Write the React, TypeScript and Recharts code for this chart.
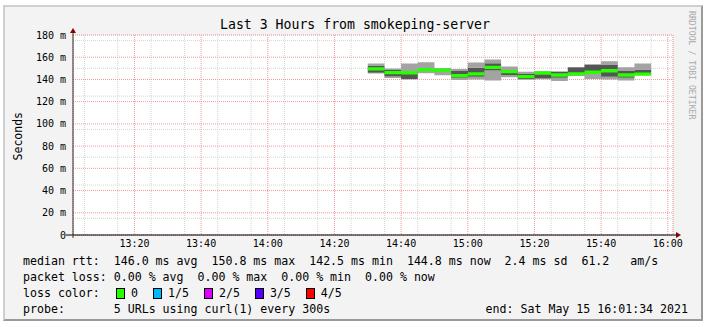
import React from 'react';
import { ComposedChart, Area, XAxis, YAxis, CartesianGrid, ReferenceDot } from 'recharts';

// 5-minute bins, each value in ms (5 pings: min, 2nd, median, 4th, max)
const binStart = ['14:30', '14:35', '14:40', '14:45', '14:50', '14:55', '15:00', '15:05', '15:10', '15:15', '15:20', '15:25', '15:30', '15:35', '15:40', '15:45', '15:50'];
const lastBinEnd = '15:55';
const rttMin = [145.3, 141.2, 139.9, 145.6, 143.8, 139.5, 140.0, 139.0, 142.0, 139.8, 140.2, 138.5, 143.0, 140.5, 139.9, 139.0, 143.8];
const rttLow = [146.0, 142.6, 140.5, 147.8, 147.0, 141.5, 142.5, 148.0, 143.8, 140.3, 140.8, 141.5, 144.0, 145.0, 142.5, 141.5, 144.2];
const rttMedian = [149.5, 146.2, 146.0, 148.8, 148.2, 143.5, 145.0, 150.8, 147.0, 142.5, 145.8, 144.0, 145.0, 146.5, 147.8, 144.0, 144.8];
const rttHigh = [152.5, 148.5, 147.5, 150.8, 149.5, 147.5, 150.5, 154.5, 148.5, 145.0, 146.5, 147.0, 151.0, 153.3, 153.5, 147.5, 149.0];
const rttMax = [154.3, 149.8, 154.3, 155.5, 150.4, 149.5, 155.3, 158.0, 151.7, 147.0, 147.4, 147.4, 151.3, 154.0, 156.4, 151.0, 154.3];

const viewStart = '13:01:34';
const viewEnd = '16:01:34';
const xMajor = ['13:20', '13:40', '14:00', '14:20', '14:40', '15:00', '15:20', '15:40', '16:00'];
const yMajor = [0, 20, 40, 60, 80, 100, 120, 140, 160, 180];

const lossLabels = ['0', '1/5', '2/5', '3/5', '4/5'];
const lossColors = ['#26ff00', '#00b8ff', '#dd00ff', '#5500ff', '#ff0000'];

const mono = '"DejaVu Sans Mono", monospace';

const toMin = (t: string) => {
  const [h, m, s] = t.split(':').map(Number);
  return h * 60 + m + (s || 0) / 60;
};
const fmt = (v: number) => {
  const h = Math.floor(v / 60);
  const m = Math.round(v - h * 60);
  return `${h}:${String(m).padStart(2, '0')}`;
};

const xStart = toMin(viewStart);
const xEnd = toMin(viewEnd);
const xMajorTicks = xMajor.map(toMin);
// minor grid every 5 min / 5 ms
const xMinorTicks: number[] = [];
for (let v = Math.ceil(xStart / 5) * 5; v <= xEnd; v += 5) if (!xMajorTicks.includes(v)) xMinorTicks.push(v);
const yMinorTicks: number[] = [];
for (let v = 5; v < 180; v += 5) if (v % 20 !== 0) yMinorTicks.push(v);

const band = 3; // median marker thickness in ms
const rows = binStart.map((t, i) => ({
  t: toMin(t),
  base: rttMin[i],
  lo: rttLow[i] - rttMin[i],
  mid: rttHigh[i] - rttLow[i],
  hi: rttMax[i] - rttHigh[i],
  medBase: rttMedian[i] - band / 2,
  med: band,
}));
rows.push({ ...rows[rows.length - 1], t: toMin(lastBinEnd) });

const XEndArrow = (p: any) => (
  <g>
    <line x1={p.cx} y1={p.cy} x2={p.cx + 4} y2={p.cy} stroke="#000" />
    <path d={`M${p.cx + 3},${p.cy - 3}L${p.cx + 8},${p.cy}L${p.cx + 3},${p.cy + 3}Z`} fill="#8b0000" />
  </g>
);
const YEndArrow = (p: any) => (
  <g>
    <line x1={p.cx} y1={p.cy} x2={p.cx} y2={p.cy - 3} stroke="#333" />
    <path d={`M${p.cx - 3},${p.cy - 2}L${p.cx},${p.cy - 7}L${p.cx + 3},${p.cy - 2}Z`} fill="#8b0000" />
  </g>
);
const Origin = (p: any) => (
  <g>
    <line x1={p.cx - 7} y1={p.cy} x2={p.cx} y2={p.cy} stroke="#000" />
    <line x1={p.cx} y1={p.cy} x2={p.cx} y2={p.cy + 3} stroke="#333" />
  </g>
);

const tickStyle = { fontFamily: mono, fontSize: 10, fill: '#000' };

export default function App() {
  return (
    <div style={{ position: 'absolute', left: 0, top: 0, width: 710, height: 327, background: '#fff', overflow: 'hidden' }}>
      <div
        style={{
          position: 'absolute', left: 3, top: 5, width: 696, height: 312, background: '#f3f3f3',
          borderTop: '2px solid #cfcfcf', borderLeft: '2px solid #cfcfcf',
          borderRight: '2px solid #9a9a9a', borderBottom: '2px solid #9a9a9a',
        }}
      />
      <div style={{ position: 'absolute', left: 0, top: 0 }}>
        <ComposedChart width={710} height={327} data={rows} margin={{ top: 35, right: 37, bottom: 72, left: 13 }}>
          <XAxis xAxisId="minor" type="number" dataKey="t" domain={[xStart, xEnd]} ticks={xMinorTicks} hide allowDataOverflow />
          <YAxis yAxisId="minor" type="number" domain={[0, 180]} ticks={yMinorTicks} hide allowDataOverflow />
          <XAxis
            dataKey="t" type="number" domain={[xStart, xEnd]} ticks={xMajorTicks} interval={0} tickFormatter={fmt}
            allowDataOverflow height={20} axisLine={{ stroke: '#000' }} tickLine={false} tickSize={0} tickMargin={5} tick={tickStyle}
          />
          <YAxis
            type="number" domain={[0, 180]} ticks={yMajor} interval={0} width={60}
            tickFormatter={(v: number) => (v === 0 ? '0' : `${v} m`)}
            axisLine={{ stroke: '#333' }} tickLine={false} tickSize={0} tickMargin={7} tick={tickStyle}
          />
          <CartesianGrid xAxisId="minor" yAxisId="minor" fill="#fff" stroke="#d4d4d4" strokeDasharray="1 1" />
          <CartesianGrid stroke="#f29a9a" strokeDasharray="1 1" />
          <Area type="stepAfter" dataKey="base" stackId="smoke" fill="none" stroke="none" isAnimationActive={false} activeDot={false} />
          <Area type="stepAfter" dataKey="lo" stackId="smoke" fill="#a3a3a3" fillOpacity={1} stroke="none" isAnimationActive={false} activeDot={false} />
          <Area type="stepAfter" dataKey="mid" stackId="smoke" fill="#555555" fillOpacity={1} stroke="none" isAnimationActive={false} activeDot={false} />
          <Area type="stepAfter" dataKey="hi" stackId="smoke" fill="#a3a3a3" fillOpacity={1} stroke="none" isAnimationActive={false} activeDot={false} />
          <Area type="stepAfter" dataKey="medBase" stackId="med" fill="none" stroke="none" isAnimationActive={false} activeDot={false} />
          <Area type="stepAfter" dataKey="med" stackId="med" fill={lossColors[0]} fillOpacity={1} stroke="none" isAnimationActive={false} activeDot={false} />
          <ReferenceDot x={xEnd} y={0} ifOverflow="visible" shape={XEndArrow} />
          <ReferenceDot x={xStart} y={180} ifOverflow="visible" shape={YEndArrow} />
          <ReferenceDot x={xStart} y={0} ifOverflow="visible" shape={Origin} />
        </ComposedChart>
      </div>

      <div style={{ position: 'absolute', left: 0, top: 17, width: 710, textAlign: 'center', fontFamily: mono, fontSize: 13.2, lineHeight: '16px', color: '#000' }}>
        Last 3 Hours from smokeping-server
      </div>
      <div
        style={{
          position: 'absolute', left: 11, top: 112, writingMode: 'vertical-rl', transform: 'rotate(180deg)',
          fontFamily: mono, fontSize: 11.5, lineHeight: '14px', color: '#000',
        }}
      >
        Seconds
      </div>
      <div style={{ position: 'absolute', left: 687, top: 11, writingMode: 'vertical-rl', fontFamily: mono, fontSize: 8.2, lineHeight: '10px', color: '#aaa' }}>
        RRDTOOL / TOBI OETIKER
      </div>

      <div style={{ position: 'absolute', left: 23, top: 253, fontFamily: mono, fontSize: 11.6, lineHeight: '16px', color: '#000', whiteSpace: 'pre' }}>
        <div>median rtt:  146.0 ms avg  150.8 ms max  142.5 ms min  144.8 ms now  2.4 ms sd  61.2   am/s</div>
        <div>packet loss: 0.00 % avg  0.00 % max  0.00 % min  0.00 % now</div>
        <div style={{ display: 'flex', alignItems: 'center' }}>
          <span style={{ width: 93 }}>loss color:</span>
          {lossLabels.map((l, i) => (
            <span key={l} style={{ display: 'flex', alignItems: 'center', marginRight: 15 }}>
              <span style={{ display: 'inline-block', width: 7, height: 9, background: lossColors[i], border: '1px solid #000', marginRight: 6 }} />
              {l}
            </span>
          ))}
        </div>
        <div>probe:       5 URLs using curl(1) every 300s</div>
      </div>
      <div style={{ position: 'absolute', right: 22, top: 301, fontFamily: mono, fontSize: 11.6, lineHeight: '16px', color: '#000', whiteSpace: 'pre' }}>
        end: Sat May 15 16:01:34 2021
      </div>
    </div>
  );
}
